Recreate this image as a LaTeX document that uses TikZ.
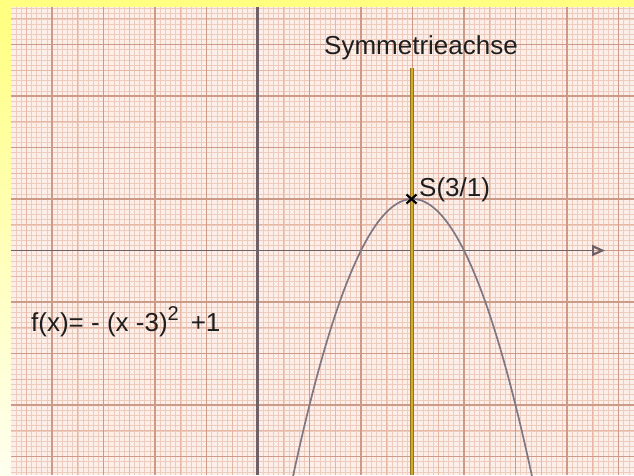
\documentclass[tikz,border=0pt]{standalone}
\usepackage{fontspec}
\setmainfont{Liberation Sans}
\usetikzlibrary{arrows.meta}
\definecolor{paper}{HTML}{FCEEE8}
\definecolor{fineline}{HTML}{EDCBBD}
\definecolor{halfline}{HTML}{E6B7A2}
\definecolor{majorline}{HTML}{CC9A86}
\definecolor{axisgray}{HTML}{6E6064}
\definecolor{symaxis}{HTML}{94741A}
\definecolor{symcore}{HTML}{D2AA2C}
\definecolor{curvegray}{HTML}{7F7884}
\definecolor{bandyellow}{HTML}{FFFF80}
\definecolor{textgray}{HTML}{1E1E1E}
\begin{document}
\begin{tikzpicture}[x=1pt,y=-1pt,
  lbl/.style={anchor=base west, inner sep=0pt, text=textgray, font=\fontsize{26}{30}\selectfont},
  finegrid/.style={fineline, line width=0.5pt},
  halfgrid/.style={halfline, line width=0.8pt},
  majorgrid/.style={majorline, line width=1.3pt},
  axisline/.style={axisgray, line width=2.4pt},
  curve/.style={curvegray, line width=1.7pt}]
\useasboundingbox (0,0) rectangle (634,475);
% yellow frame
\fill[bandyellow] (0,0) rectangle (634,7);
\shade[top color=bandyellow, bottom color=yellow!6] (0,7) rectangle (11,475);
% graph paper
\fill[paper] (11,7) rectangle (634,475);
\begin{scope}
\clip (11,7) rectangle (634,475);
\foreach \i in {-47,...,73} \draw[finegrid] ({258+\i*5.15},7) -- ({258+\i*5.15},475);
\foreach \j in {-47,...,43} \draw[finegrid] (11,{250.5+\j*5.15}) -- (634,{250.5+\j*5.15});
\foreach \i in {-9,...,14} \draw[halfgrid] ({258+\i*25.75},7) -- ({258+\i*25.75},475);
\foreach \j in {-9,...,8} \draw[halfgrid] (11,{250.5+\j*25.75}) -- (634,{250.5+\j*25.75});
\foreach \i in {-4,...,7} \draw[majorgrid] ({258+\i*51.5},7) -- ({258+\i*51.5},475);
\foreach \j in {-4,...,4} \draw[majorgrid] (11,{250.5+\j*51.5}) -- (634,{250.5+\j*51.5});
% axes
\coordinate (ytop) at (257.5,7);
\coordinate (ybot) at (257.5,475);
\coordinate (xleft) at (11,250.5);
\coordinate (xright) at (605,250.5);
\draw[axisline] (ytop) -- (ybot);
\draw[axisline, line width=1.8pt, -{Triangle[open, length=13pt, width=11pt, line width=2.2pt]}] (xleft) -- (xright);
% parabola
\draw[curve, domain=0.55:5.45, samples=120, variable=\t]
  plot ({258+51.5*\t},{250.5+51.5*((\t-3)*(\t-3)-1)});
% symmetry axis
\coordinate (stop) at (412,68);
\coordinate (sbot) at (412,475);
\draw[symaxis, line width=3.8pt] (stop) -- (sbot);
\draw[symcore, line width=1.3pt] (stop) -- (sbot);
\end{scope}
% vertex marker
\coordinate (S) at (411.5,199);
\draw[black, line width=2.2pt] ([shift={(-5,-4.5)}]S) -- ([shift={(5,4.5)}]S);
\draw[black, line width=2.2pt] ([shift={(-5,4.5)}]S) -- ([shift={(5,-4.5)}]S);
% labels
\node[lbl] (symlabel) at (324,54) {Symmetrieachse};
\node[lbl] (slabel) at (419,196.5) {S(3/1)};
\node[lbl] (flabel) at (31,331.7) {f(x)= - (x -3)\raisebox{11pt}{\fontsize{20}{24}\selectfont 2}\hspace{12pt}+1};
\end{tikzpicture}
\end{document}
